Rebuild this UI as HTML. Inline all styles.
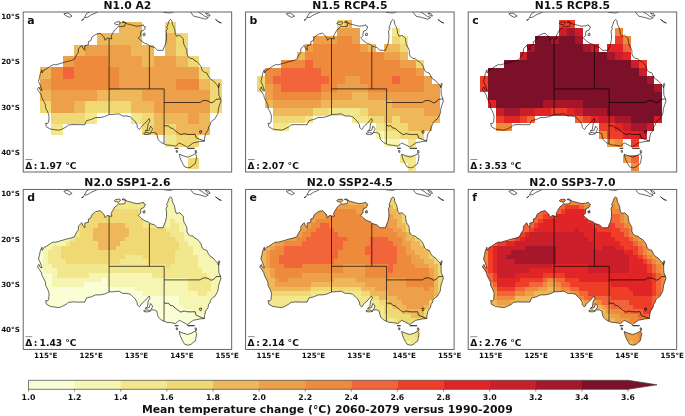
<!DOCTYPE html>
<html><head><meta charset="utf-8"><title>Mean temperature change</title>
<style>html,body{margin:0;padding:0;background:#fff}svg{display:block}text{font-family:"DejaVu Sans","Liberation Sans",sans-serif;font-weight:bold;fill:#111}</style></head><body>
<svg width="685" height="416" viewBox="0 0 685 416">
<rect width="685" height="416" fill="#fff"/>
<defs>
<path id="land" d="M147.5 7.4L148.7 8.8L149.2 12.4L150.5 14.7L151.5 17.4L152.1 21.5L153.3 24.2L156.4 23.3L160.1 26.7L160.1 29.2L160.8 32.8L162.4 35.5L163.7 38.3L163.7 41.9L164.8 44.6L166.9 46.2L170.1 46.9L171.4 48.7L173.7 49.6L176.0 51.9L177.8 54.6L179.1 58.7L181.0 60.1L183.7 61.0L185.1 64.2L187.3 67.1L190.0 68.7L192.3 71.4L194.6 73.7L195.5 76.4L195.5 80.0L195.7 83.2L197.1 86.4L197.8 88.9L196.6 92.3L195.3 96.4L195.0 99.1L194.6 101.8L192.8 105.0L191.4 107.3L189.6 108.2L187.3 110.9L187.1 112.7L185.5 115.0L184.8 118.2L182.3 121.8L181.4 126.3L181.2 129.1L176.9 129.5L170.1 130.9L166.9 133.2L164.2 135.2L161.4 133.6L158.3 132.0L156.0 130.9L154.2 132.7L152.2 134.1L146.9 133.2L143.3 132.9L140.1 131.6L137.8 130.4L135.1 127.7L134.2 125.0L133.7 121.8L131.0 120.4L127.4 120.7L129.2 117.7L129.2 116.4L127.4 114.1L126.0 118.2L121.9 119.1L124.2 117.3L124.7 113.6L125.1 111.4L126.7 109.1L126.0 106.6L124.2 108.6L121.3 111.8L119.0 113.6L117.6 115.5L117.0 116.8L116.0 117.5L114.2 115.5L113.8 112.7L112.0 109.6L109.7 107.3L107.0 104.8L102.9 103.9L99.7 104.1L95.6 101.8L90.6 102.3L86.1 102.5L81.5 104.6L77.0 105.5L72.5 105.5L67.9 107.5L63.4 108.6L61.6 112.7L54.3 112.7L49.8 112.5L45.2 113.0L42.9 115.0L38.4 117.3L35.7 118.2L31.6 117.7L27.1 117.0L23.2 114.8L22.5 111.1L24.3 111.6L25.5 110.0L25.7 106.4L25.9 104.3L25.2 101.8L23.9 98.7L22.5 96.4L22.3 92.8L20.7 89.6L18.7 85.9L18.4 83.7L16.2 80.0L14.1 77.5L15.7 75.0L16.8 77.8L18.9 78.5L16.6 72.3L15.3 69.6L16.2 66.0L17.1 61.4L18.7 57.8L18.9 61.0L20.9 58.0L23.0 57.1L27.1 54.2L30.2 52.6L32.5 52.8L38.9 51.0L43.4 49.6L47.5 48.7L51.1 47.4L53.4 42.8L55.2 40.5L55.2 36.9L58.5 33.3L59.7 36.0L61.6 38.3L61.6 33.7L65.2 32.8L65.2 29.6L67.5 28.7L68.8 25.1L72.5 22.4L76.8 21.2L80.6 24.7L82.0 28.3L83.8 26.0L86.1 26.5L88.8 26.9L87.9 24.2L89.3 21.5L91.5 17.8L94.5 15.3L95.2 14.2L97.4 14.7L101.5 14.2L102.4 11.0L98.8 10.1L100.6 9.4L104.2 11.9L106.5 12.4L109.7 13.3L113.3 14.2L117.4 13.8L120.1 12.8L120.6 14.2L122.3 14.9L120.6 18.3L117.9 19.2L117.4 21.5L117.4 23.7L115.1 26.0L117.4 28.3L121.0 31.0L124.7 32.4L126.9 34.2L131.5 35.5L134.2 38.3L139.9 38.3L140.6 36.0L142.4 31.9L143.3 26.9L143.3 22.4L142.8 19.2L144.4 16.3L143.3 15.6L144.6 12.8L145.8 8.8Z M156.0 142.1L160.1 143.8L164.5 145.1L168.7 143.6L172.2 141.7L173.5 144.1L172.6 149.4L171.9 151.8L169.9 153.1L167.8 155.0L165.1 155.9L161.4 154.8L159.6 151.8L158.3 149.4L156.9 145.9Z M120.6 121.1L123.8 120.4L127.4 121.6L124.7 122.5L121.0 122.3Z M91.1 11.5L92.4 10.1L96.5 9.7L97.4 11.0L95.2 12.8L92.9 12.4Z M119.7 21.9L121.5 21.0L121.9 23.3L120.1 23.7Z M195.9 71.2L196.6 72.3L195.5 75.7L195.0 73.7Z M171.9 138.4L173.2 138.8L173.5 140.9L172.3 141.1Z M152.8 138.4L154.2 138.6L154.4 140.2L153.3 140.4Z"/>
<path id="coast" fill="none" stroke="#000" stroke-width="0.6" stroke-linejoin="round" d="M151.5 136.3L155.1 136.3Z M164.2 136.3L171.4 136.3Z M182.3 1.0L185.5 1.7L186.9 4.0L184.6 3.8Z M147.5 7.4L148.7 8.8L149.2 12.4L150.5 14.7L151.5 17.4L152.1 21.5L153.3 24.2L156.4 23.3L160.1 26.7L160.1 29.2L160.8 32.8L162.4 35.5L163.7 38.3L163.7 41.9L164.8 44.6L166.9 46.2L170.1 46.9L171.4 48.7L173.7 49.6L176.0 51.9L177.8 54.6L179.1 58.7L181.0 60.1L183.7 61.0L185.1 64.2L187.3 67.1L190.0 68.7L192.3 71.4L194.6 73.7L195.5 76.4L195.5 80.0L195.7 83.2L197.1 86.4L197.8 88.9L196.6 92.3L195.3 96.4L195.0 99.1L194.6 101.8L192.8 105.0L191.4 107.3L189.6 108.2L187.3 110.9L187.1 112.7L185.5 115.0L184.8 118.2L182.3 121.8L181.4 126.3L181.2 129.1L176.9 129.5L170.1 130.9L166.9 133.2L164.2 135.2L161.4 133.6L158.3 132.0L156.0 130.9L154.2 132.7L152.2 134.1L146.9 133.2L143.3 132.9L140.1 131.6L137.8 130.4L135.1 127.7L134.2 125.0L133.7 121.8L131.0 120.4L127.4 120.7L129.2 117.7L129.2 116.4L127.4 114.1L126.0 118.2L121.9 119.1L124.2 117.3L124.7 113.6L125.1 111.4L126.7 109.1L126.0 106.6L124.2 108.6L121.3 111.8L119.0 113.6L117.6 115.5L117.0 116.8L116.0 117.5L114.2 115.5L113.8 112.7L112.0 109.6L109.7 107.3L107.0 104.8L102.9 103.9L99.7 104.1L95.6 101.8L90.6 102.3L86.1 102.5L81.5 104.6L77.0 105.5L72.5 105.5L67.9 107.5L63.4 108.6L61.6 112.7L54.3 112.7L49.8 112.5L45.2 113.0L42.9 115.0L38.4 117.3L35.7 118.2L31.6 117.7L27.1 117.0L23.2 114.8L22.5 111.1L24.3 111.6L25.5 110.0L25.7 106.4L25.9 104.3L25.2 101.8L23.9 98.7L22.5 96.4L22.3 92.8L20.7 89.6L18.7 85.9L18.4 83.7L16.2 80.0L14.1 77.5L15.7 75.0L16.8 77.8L18.9 78.5L16.6 72.3L15.3 69.6L16.2 66.0L17.1 61.4L18.7 57.8L18.9 61.0L20.9 58.0L23.0 57.1L27.1 54.2L30.2 52.6L32.5 52.8L38.9 51.0L43.4 49.6L47.5 48.7L51.1 47.4L53.4 42.8L55.2 40.5L55.2 36.9L58.5 33.3L59.7 36.0L61.6 38.3L61.6 33.7L65.2 32.8L65.2 29.6L67.5 28.7L68.8 25.1L72.5 22.4L76.8 21.2L80.6 24.7L82.0 28.3L83.8 26.0L86.1 26.5L88.8 26.9L87.9 24.2L89.3 21.5L91.5 17.8L94.5 15.3L95.2 14.2L97.4 14.7L101.5 14.2L102.4 11.0L98.8 10.1L100.6 9.4L104.2 11.9L106.5 12.4L109.7 13.3L113.3 14.2L117.4 13.8L120.1 12.8L120.6 14.2L122.3 14.9L120.6 18.3L117.9 19.2L117.4 21.5L117.4 23.7L115.1 26.0L117.4 28.3L121.0 31.0L124.7 32.4L126.9 34.2L131.5 35.5L134.2 38.3L139.9 38.3L140.6 36.0L142.4 31.9L143.3 26.9L143.3 22.4L142.8 19.2L144.4 16.3L143.3 15.6L144.6 12.8L145.8 8.8Z M156.0 142.1L160.1 143.8L164.5 145.1L168.7 143.6L172.2 141.7L173.5 144.1L172.6 149.4L171.9 151.8L169.9 153.1L167.8 155.0L165.1 155.9L161.4 154.8L159.6 151.8L158.3 149.4L156.9 145.9Z M120.6 121.1L123.8 120.4L127.4 121.6L124.7 122.5L121.0 122.3Z M91.1 11.5L92.4 10.1L96.5 9.7L97.4 11.0L95.2 12.8L92.9 12.4Z M119.7 21.9L121.5 21.0L121.9 23.3L120.1 23.7Z M195.9 71.2L196.6 72.3L195.5 75.7L195.0 73.7Z M171.9 138.4L173.2 138.8L173.5 140.9L172.3 141.1Z M152.8 138.4L154.2 138.6L154.4 140.2L153.3 140.4Z M40.7 1.7L44.8 1.0L48.9 4.0L46.1 5.4L42.0 3.3Z M61.1 5.8L63.4 1.5L67.9 -0.8L77.0 -3.0L78.4 -2.6L72.5 1.0L67.9 2.9L64.7 5.1Z M58.4 8.3L60.7 6.7L59.7 8.1Z M136.0 -4.9L140.6 0.4L147.4 1.0L151.0 -0.3L151.5 -4.9Z M163.3 -4.9L167.3 0.1L170.5 4.2L176.9 5.6L182.3 7.2L185.1 5.6L181.4 4.2L179.1 2.4L174.6 -0.3L172.3 -4.9Z M192.3 7.4L195.5 9.7L198.2 11.0L195.9 10.4Z"/>
<path id="borders" fill="none" stroke="#000" stroke-width="0.68" d="M176.2 119.1L178.2 118.6L178.5 120.4L177.1 121.6L176.2 119.1 M85.9 26.5L85.9 102.5 M85.9 76.9L141.0 76.9 M126.2 34.2L126.2 76.9 M141.0 76.9L140.8 131.6 M141.0 90.5L176.9 90.5L179.6 88.7L182.8 88.4L186.0 89.6L187.8 90.9L190.5 90.0L192.8 87.3L195.9 87.1L197.5 86.7 M140.8 113.2L142.8 114.1L145.1 113.6L146.9 115.9L149.6 116.4L151.9 118.6L154.2 120.4L157.6 122.7L161.0 121.6L163.3 122.3L167.8 122.5L171.9 122.3L173.0 125.9L181.2 129.1"/>
<clipPath id="frame"><rect x="0" y="0" width="208.5" height="160.0"/></clipPath>
<clipPath id="landclip"><use href="#land"/></clipPath>
</defs>
<g id="panel-a" transform="translate(23.2 12.0)">
<g clip-path="url(#frame)">
<g shape-rendering="crispEdges">

<rect x="96.29" y="9.90" width="22.70" height="11.35" fill="#edb75a"/><rect x="141.69" y="9.90" width="11.35" height="11.35" fill="#f0d874"/>
<rect x="73.59" y="21.25" width="45.40" height="11.35" fill="#edb75a"/><rect x="141.69" y="21.25" width="11.35" height="11.35" fill="#edb75a"/><rect x="153.04" y="21.25" width="11.35" height="11.35" fill="#f0d874"/>
<rect x="50.89" y="32.60" width="11.35" height="11.35" fill="#edb75a"/><rect x="62.24" y="32.60" width="45.40" height="11.35" fill="#eda049"/><rect x="107.64" y="32.60" width="22.70" height="11.35" fill="#edb75a"/><rect x="141.69" y="32.60" width="11.35" height="11.35" fill="#edb75a"/><rect x="153.04" y="32.60" width="11.35" height="11.35" fill="#f0d874"/>
<rect x="39.54" y="43.95" width="11.35" height="11.35" fill="#eda049"/><rect x="50.89" y="43.95" width="34.05" height="11.35" fill="#ee8a3c"/><rect x="84.94" y="43.95" width="34.05" height="11.35" fill="#eda049"/><rect x="118.99" y="43.95" width="11.35" height="11.35" fill="#edb75a"/><rect x="130.34" y="43.95" width="22.70" height="11.35" fill="#eda049"/><rect x="153.04" y="43.95" width="11.35" height="11.35" fill="#edb75a"/><rect x="164.39" y="43.95" width="11.35" height="11.35" fill="#f0d874"/>
<rect x="16.84" y="55.30" width="11.35" height="11.35" fill="#edb75a"/><rect x="28.19" y="55.30" width="11.35" height="11.35" fill="#ee8a3c"/><rect x="39.54" y="55.30" width="11.35" height="11.35" fill="#f2643a"/><rect x="50.89" y="55.30" width="45.40" height="11.35" fill="#ee8a3c"/><rect x="96.29" y="55.30" width="79.45" height="11.35" fill="#eda049"/><rect x="175.74" y="55.30" width="11.35" height="11.35" fill="#f0d874"/>
<rect x="16.84" y="66.65" width="11.35" height="11.35" fill="#eda049"/><rect x="28.19" y="66.65" width="68.10" height="11.35" fill="#ee8a3c"/><rect x="96.29" y="66.65" width="56.75" height="11.35" fill="#eda049"/><rect x="153.04" y="66.65" width="22.70" height="11.35" fill="#ee8a3c"/><rect x="175.74" y="66.65" width="11.35" height="11.35" fill="#edb75a"/><rect x="187.09" y="66.65" width="11.35" height="11.35" fill="#f0d874"/>
<rect x="16.84" y="78.00" width="11.35" height="11.35" fill="#edb75a"/><rect x="28.19" y="78.00" width="45.40" height="11.35" fill="#eda049"/><rect x="73.59" y="78.00" width="45.40" height="11.35" fill="#edb75a"/><rect x="118.99" y="78.00" width="68.10" height="11.35" fill="#eda049"/><rect x="187.09" y="78.00" width="11.35" height="11.35" fill="#f0d874"/>
<rect x="16.84" y="89.35" width="11.35" height="11.35" fill="#f0d874"/><rect x="28.19" y="89.35" width="22.70" height="11.35" fill="#eda049"/><rect x="50.89" y="89.35" width="11.35" height="11.35" fill="#edb75a"/><rect x="62.24" y="89.35" width="45.40" height="11.35" fill="#f0d874"/><rect x="107.64" y="89.35" width="22.70" height="11.35" fill="#edb75a"/><rect x="130.34" y="89.35" width="56.75" height="11.35" fill="#eda049"/><rect x="187.09" y="89.35" width="11.35" height="11.35" fill="#f0d874"/>
<rect x="28.19" y="100.70" width="34.05" height="11.35" fill="#f0d874"/><rect x="62.24" y="100.70" width="11.35" height="11.35" fill="#f3e78e"/><rect x="107.64" y="100.70" width="11.35" height="11.35" fill="#f3e78e"/><rect x="118.99" y="100.70" width="11.35" height="11.35" fill="#f0d874"/><rect x="130.34" y="100.70" width="34.05" height="11.35" fill="#edb75a"/><rect x="164.39" y="100.70" width="11.35" height="11.35" fill="#eda049"/><rect x="175.74" y="100.70" width="11.35" height="11.35" fill="#edb75a"/>
<rect x="28.19" y="112.05" width="11.35" height="11.35" fill="#f3e78e"/><rect x="118.99" y="112.05" width="11.35" height="11.35" fill="#f0d874"/><rect x="130.34" y="112.05" width="11.35" height="11.35" fill="#edb75a"/><rect x="141.69" y="112.05" width="11.35" height="11.35" fill="#f0d874"/><rect x="153.04" y="112.05" width="34.05" height="11.35" fill="#edb75a"/>
<rect x="141.69" y="123.40" width="11.35" height="11.35" fill="#f3e78e"/><rect x="153.04" y="123.40" width="22.70" height="11.35" fill="#f0d874"/>

<rect x="164.39" y="146.10" width="11.35" height="11.35" fill="#f0d874"/>
</g>
<use href="#coast"/><use href="#borders"/>
</g>
<rect x="0" y="0" width="208.5" height="160.0" fill="none" stroke="#555" stroke-width="0.9"/>
<text x="104.2" y="-3.2" font-size="10.8" text-anchor="middle">N1.0 A2</text>
<text x="4.0" y="11.9" font-size="10.9">a</text>
<text x="2.0" y="156.9" font-size="9.1">Δ</text><rect x="2.2" y="147.1" width="6.9" height="0.6" fill="#444"/><text x="10.6" y="156.9" font-size="9.1">:</text><text x="16.3" y="156.9" font-size="9.2">1.97</text><text x="42.0" y="156.9" font-size="9.2">°C</text>
<text x="-3.4" y="6.8" font-size="7.15" text-anchor="end">10°S</text><text x="-3.4" y="52.2" font-size="7.15" text-anchor="end">20°S</text><text x="-3.4" y="97.6" font-size="7.15" text-anchor="end">30°S</text><text x="-3.4" y="143.0" font-size="7.15" text-anchor="end">40°S</text>
</g>
<g id="panel-b" transform="translate(245.6 12.0)">
<g clip-path="url(#frame)">
<g shape-rendering="crispEdges">

<rect x="91.00" y="8.33" width="7.94" height="7.93" fill="#f0d874"/><rect x="98.94" y="8.33" width="7.94" height="7.93" fill="#edb75a"/>
<rect x="91.00" y="16.26" width="23.82" height="7.93" fill="#eda049"/><rect x="146.59" y="16.26" width="7.94" height="7.93" fill="#f3e78e"/>
<rect x="67.18" y="24.19" width="23.82" height="7.93" fill="#eda049"/><rect x="91.00" y="24.19" width="15.88" height="7.93" fill="#ee8a3c"/><rect x="106.89" y="24.19" width="7.94" height="7.93" fill="#eda049"/><rect x="146.59" y="24.19" width="7.94" height="7.93" fill="#f0d874"/><rect x="154.53" y="24.19" width="7.94" height="7.93" fill="#f3e78e"/>
<rect x="59.24" y="32.13" width="7.94" height="7.93" fill="#eda049"/><rect x="67.18" y="32.13" width="47.64" height="7.93" fill="#ee8a3c"/><rect x="114.83" y="32.13" width="7.94" height="7.93" fill="#eda049"/><rect x="122.77" y="32.13" width="7.94" height="7.93" fill="#edb75a"/><rect x="138.65" y="32.13" width="15.88" height="7.93" fill="#edb75a"/><rect x="154.53" y="32.13" width="7.94" height="7.93" fill="#f0d874"/>
<rect x="51.30" y="40.06" width="7.94" height="7.93" fill="#edb75a"/><rect x="59.24" y="40.06" width="79.40" height="7.93" fill="#ee8a3c"/><rect x="138.65" y="40.06" width="15.88" height="7.93" fill="#eda049"/><rect x="154.53" y="40.06" width="7.94" height="7.93" fill="#edb75a"/>
<rect x="35.42" y="47.99" width="23.82" height="7.93" fill="#ee8a3c"/><rect x="59.24" y="47.99" width="7.94" height="7.93" fill="#f2643a"/><rect x="67.18" y="47.99" width="87.35" height="7.93" fill="#ee8a3c"/><rect x="154.53" y="47.99" width="15.88" height="7.93" fill="#eda049"/><rect x="170.41" y="47.99" width="7.94" height="7.93" fill="#f0d874"/>
<rect x="19.54" y="55.92" width="15.88" height="7.93" fill="#ee8a3c"/><rect x="35.42" y="55.92" width="39.70" height="7.93" fill="#f2643a"/><rect x="75.12" y="55.92" width="95.29" height="7.93" fill="#ee8a3c"/><rect x="170.41" y="55.92" width="7.94" height="7.93" fill="#eda049"/>
<rect x="11.60" y="63.85" width="7.94" height="7.93" fill="#f0d874"/><rect x="19.54" y="63.85" width="7.94" height="7.93" fill="#ee8a3c"/><rect x="27.48" y="63.85" width="55.58" height="7.93" fill="#f2643a"/><rect x="83.06" y="63.85" width="15.88" height="7.93" fill="#ee8a3c"/><rect x="98.94" y="63.85" width="15.88" height="7.93" fill="#eda049"/><rect x="114.83" y="63.85" width="31.76" height="7.93" fill="#ee8a3c"/><rect x="146.59" y="63.85" width="7.94" height="7.93" fill="#f2643a"/><rect x="154.53" y="63.85" width="23.82" height="7.93" fill="#ee8a3c"/><rect x="178.35" y="63.85" width="7.94" height="7.93" fill="#eda049"/>
<rect x="11.60" y="71.78" width="7.94" height="7.93" fill="#f0d874"/><rect x="19.54" y="71.78" width="7.94" height="7.93" fill="#eda049"/><rect x="27.48" y="71.78" width="7.94" height="7.93" fill="#ee8a3c"/><rect x="35.42" y="71.78" width="39.70" height="7.93" fill="#f2643a"/><rect x="75.12" y="71.78" width="15.88" height="7.93" fill="#ee8a3c"/><rect x="91.00" y="71.78" width="31.76" height="7.93" fill="#eda049"/><rect x="122.77" y="71.78" width="55.58" height="7.93" fill="#ee8a3c"/><rect x="178.35" y="71.78" width="15.88" height="7.93" fill="#eda049"/>
<rect x="19.54" y="79.71" width="7.94" height="7.93" fill="#eda049"/><rect x="27.48" y="79.71" width="47.64" height="7.93" fill="#ee8a3c"/><rect x="75.12" y="79.71" width="31.76" height="7.93" fill="#eda049"/><rect x="106.89" y="79.71" width="15.88" height="7.93" fill="#edb75a"/><rect x="122.77" y="79.71" width="71.46" height="7.93" fill="#eda049"/>
<rect x="19.54" y="87.64" width="7.94" height="7.93" fill="#edb75a"/><rect x="27.48" y="87.64" width="47.64" height="7.93" fill="#eda049"/><rect x="75.12" y="87.64" width="71.46" height="7.93" fill="#edb75a"/><rect x="146.59" y="87.64" width="47.64" height="7.93" fill="#eda049"/>
<rect x="27.48" y="95.58" width="39.70" height="7.93" fill="#edb75a"/><rect x="67.18" y="95.58" width="15.88" height="7.93" fill="#f0d874"/><rect x="83.06" y="95.58" width="31.76" height="7.93" fill="#f3e78e"/><rect x="114.83" y="95.58" width="7.94" height="7.93" fill="#f0d874"/><rect x="122.77" y="95.58" width="55.58" height="7.93" fill="#edb75a"/><rect x="178.35" y="95.58" width="15.88" height="7.93" fill="#eda049"/>
<rect x="27.48" y="103.51" width="31.76" height="7.93" fill="#f0d874"/><rect x="59.24" y="103.51" width="7.94" height="7.93" fill="#f3e78e"/><rect x="106.89" y="103.51" width="15.88" height="7.93" fill="#f3e78e"/><rect x="122.77" y="103.51" width="15.88" height="7.93" fill="#f0d874"/><rect x="138.65" y="103.51" width="7.94" height="7.93" fill="#edb75a"/><rect x="146.59" y="103.51" width="7.94" height="7.93" fill="#f0d874"/><rect x="154.53" y="103.51" width="39.70" height="7.93" fill="#edb75a"/>
<rect x="27.48" y="111.44" width="15.88" height="7.93" fill="#f3e78e"/><rect x="130.71" y="111.44" width="7.94" height="7.93" fill="#f3e78e"/><rect x="138.65" y="111.44" width="23.82" height="7.93" fill="#f0d874"/><rect x="162.47" y="111.44" width="23.82" height="7.93" fill="#edb75a"/>
<rect x="130.71" y="119.37" width="7.94" height="7.93" fill="#f6f6b2"/><rect x="138.65" y="119.37" width="15.88" height="7.93" fill="#f3e78e"/><rect x="154.53" y="119.37" width="23.82" height="7.93" fill="#f0d874"/>
<rect x="138.65" y="127.30" width="15.88" height="7.93" fill="#f6f6b2"/><rect x="162.47" y="127.30" width="7.94" height="7.93" fill="#f3e78e"/>

<rect x="154.53" y="143.16" width="15.88" height="7.93" fill="#f3e78e"/>
<rect x="162.47" y="151.10" width="7.94" height="7.93" fill="#f3e78e"/>
</g>
<use href="#coast"/><use href="#borders"/>
</g>
<rect x="0" y="0" width="208.5" height="160.0" fill="none" stroke="#555" stroke-width="0.9"/>
<text x="104.2" y="-3.2" font-size="10.8" text-anchor="middle">N1.5 RCP4.5</text>
<text x="4.0" y="11.9" font-size="10.9">b</text>
<text x="2.0" y="156.9" font-size="9.1">Δ</text><rect x="2.2" y="147.1" width="6.9" height="0.6" fill="#444"/><text x="10.6" y="156.9" font-size="9.1">:</text><text x="16.3" y="156.9" font-size="9.2">2.07</text><text x="42.0" y="156.9" font-size="9.2">°C</text>
</g>
<g id="panel-c" transform="translate(468.2 12.0)">
<g clip-path="url(#frame)">
<g shape-rendering="crispEdges">

<rect x="91.00" y="8.33" width="15.88" height="7.93" fill="#ee3e28"/>
<rect x="91.00" y="16.26" width="7.94" height="7.93" fill="#ca1f2a"/><rect x="98.94" y="16.26" width="7.94" height="7.93" fill="#a7172b"/><rect x="106.89" y="16.26" width="7.94" height="7.93" fill="#ca1f2a"/><rect x="146.59" y="16.26" width="7.94" height="7.93" fill="#ee8a3c"/>
<rect x="67.18" y="24.19" width="15.88" height="7.93" fill="#7c1028"/><rect x="83.06" y="24.19" width="7.94" height="7.93" fill="#a7172b"/><rect x="91.00" y="24.19" width="15.88" height="7.93" fill="#7c1028"/><rect x="106.89" y="24.19" width="7.94" height="7.93" fill="#a7172b"/><rect x="146.59" y="24.19" width="7.94" height="7.93" fill="#ee3e28"/><rect x="154.53" y="24.19" width="7.94" height="7.93" fill="#ee8a3c"/>
<rect x="59.24" y="32.13" width="7.94" height="7.93" fill="#a7172b"/><rect x="67.18" y="32.13" width="47.64" height="7.93" fill="#7c1028"/><rect x="114.83" y="32.13" width="7.94" height="7.93" fill="#a7172b"/><rect x="122.77" y="32.13" width="7.94" height="7.93" fill="#ca1f2a"/><rect x="138.65" y="32.13" width="15.88" height="7.93" fill="#e12426"/><rect x="154.53" y="32.13" width="7.94" height="7.93" fill="#f2643a"/>
<rect x="51.30" y="40.06" width="7.94" height="7.93" fill="#ca1f2a"/><rect x="59.24" y="40.06" width="79.40" height="7.93" fill="#7c1028"/><rect x="138.65" y="40.06" width="7.94" height="7.93" fill="#a7172b"/><rect x="146.59" y="40.06" width="7.94" height="7.93" fill="#ca1f2a"/><rect x="154.53" y="40.06" width="7.94" height="7.93" fill="#e12426"/>
<rect x="35.42" y="47.99" width="127.05" height="7.93" fill="#7c1028"/><rect x="162.47" y="47.99" width="7.94" height="7.93" fill="#ca1f2a"/><rect x="170.41" y="47.99" width="7.94" height="7.93" fill="#ee3e28"/>
<rect x="19.54" y="55.92" width="150.87" height="7.93" fill="#7c1028"/><rect x="170.41" y="55.92" width="7.94" height="7.93" fill="#ca1f2a"/>
<rect x="11.60" y="63.85" width="7.94" height="7.93" fill="#ee3e28"/><rect x="19.54" y="63.85" width="158.81" height="7.93" fill="#7c1028"/><rect x="178.35" y="63.85" width="7.94" height="7.93" fill="#a7172b"/>
<rect x="11.60" y="71.78" width="7.94" height="7.93" fill="#ee3e28"/><rect x="19.54" y="71.78" width="166.75" height="7.93" fill="#7c1028"/><rect x="186.29" y="71.78" width="7.94" height="7.93" fill="#a7172b"/>
<rect x="19.54" y="79.71" width="174.69" height="7.93" fill="#7c1028"/>
<rect x="19.54" y="87.64" width="7.94" height="7.93" fill="#e12426"/><rect x="27.48" y="87.64" width="47.64" height="7.93" fill="#7c1028"/><rect x="75.12" y="87.64" width="39.70" height="7.93" fill="#a7172b"/><rect x="114.83" y="87.64" width="79.40" height="7.93" fill="#7c1028"/>
<rect x="27.48" y="95.58" width="7.94" height="7.93" fill="#ca1f2a"/><rect x="35.42" y="95.58" width="15.88" height="7.93" fill="#a7172b"/><rect x="51.30" y="95.58" width="15.88" height="7.93" fill="#ca1f2a"/><rect x="67.18" y="95.58" width="15.88" height="7.93" fill="#e12426"/><rect x="83.06" y="95.58" width="15.88" height="7.93" fill="#ee3e28"/><rect x="98.94" y="95.58" width="7.94" height="7.93" fill="#e12426"/><rect x="106.89" y="95.58" width="7.94" height="7.93" fill="#ca1f2a"/><rect x="114.83" y="95.58" width="23.82" height="7.93" fill="#a7172b"/><rect x="138.65" y="95.58" width="55.58" height="7.93" fill="#7c1028"/>
<rect x="27.48" y="103.51" width="7.94" height="7.93" fill="#ee3e28"/><rect x="35.42" y="103.51" width="15.88" height="7.93" fill="#e12426"/><rect x="51.30" y="103.51" width="7.94" height="7.93" fill="#ee3e28"/><rect x="59.24" y="103.51" width="7.94" height="7.93" fill="#f2643a"/><rect x="106.89" y="103.51" width="7.94" height="7.93" fill="#f2643a"/><rect x="114.83" y="103.51" width="7.94" height="7.93" fill="#ee3e28"/><rect x="122.77" y="103.51" width="7.94" height="7.93" fill="#e12426"/><rect x="130.71" y="103.51" width="15.88" height="7.93" fill="#ca1f2a"/><rect x="146.59" y="103.51" width="15.88" height="7.93" fill="#a7172b"/><rect x="162.47" y="103.51" width="23.82" height="7.93" fill="#7c1028"/><rect x="186.29" y="103.51" width="7.94" height="7.93" fill="#ca1f2a"/>
<rect x="27.48" y="111.44" width="15.88" height="7.93" fill="#ee8a3c"/><rect x="130.71" y="111.44" width="15.88" height="7.93" fill="#ee3e28"/><rect x="146.59" y="111.44" width="7.94" height="7.93" fill="#e12426"/><rect x="154.53" y="111.44" width="7.94" height="7.93" fill="#ca1f2a"/><rect x="162.47" y="111.44" width="15.88" height="7.93" fill="#a7172b"/><rect x="178.35" y="111.44" width="7.94" height="7.93" fill="#ca1f2a"/>
<rect x="130.71" y="119.37" width="7.94" height="7.93" fill="#ee8a3c"/><rect x="138.65" y="119.37" width="15.88" height="7.93" fill="#ee3e28"/><rect x="154.53" y="119.37" width="15.88" height="7.93" fill="#e12426"/><rect x="170.41" y="119.37" width="7.94" height="7.93" fill="#ca1f2a"/>
<rect x="138.65" y="127.30" width="7.94" height="7.93" fill="#eda049"/><rect x="146.59" y="127.30" width="7.94" height="7.93" fill="#ee8a3c"/><rect x="162.47" y="127.30" width="7.94" height="7.93" fill="#ee3e28"/>

<rect x="154.53" y="143.16" width="7.94" height="7.93" fill="#eda049"/><rect x="162.47" y="143.16" width="7.94" height="7.93" fill="#f2643a"/>
<rect x="162.47" y="151.10" width="7.94" height="7.93" fill="#ee8a3c"/>
</g>
<use href="#coast"/><use href="#borders"/>
</g>
<rect x="0" y="0" width="208.5" height="160.0" fill="none" stroke="#555" stroke-width="0.9"/>
<text x="104.2" y="-3.2" font-size="10.8" text-anchor="middle">N1.5 RCP8.5</text>
<text x="4.0" y="11.9" font-size="10.9">c</text>
<text x="2.0" y="156.9" font-size="9.1">Δ</text><rect x="2.2" y="147.1" width="6.9" height="0.6" fill="#444"/><text x="10.6" y="156.9" font-size="9.1">:</text><text x="16.3" y="156.9" font-size="9.2">3.53</text><text x="42.0" y="156.9" font-size="9.2">°C</text>
</g>
<g id="panel-d" transform="translate(23.2 189.4)">
<g clip-path="url(#frame)">
<g shape-rendering="crispEdges">
<g clip-path="url(#landclip)">
<rect x="1.82" y="-2.68" width="68.10" height="4.54" fill="#f6f6b2"/><rect x="69.92" y="-2.68" width="72.64" height="4.54" fill="#f3e78e"/><rect x="142.56" y="-2.68" width="68.10" height="4.54" fill="#f6f6b2"/>
<rect x="1.82" y="1.86" width="68.10" height="4.54" fill="#f6f6b2"/><rect x="69.92" y="1.86" width="72.64" height="4.54" fill="#f3e78e"/><rect x="142.56" y="1.86" width="68.10" height="4.54" fill="#f6f6b2"/>
<rect x="1.82" y="6.40" width="68.10" height="4.54" fill="#f6f6b2"/><rect x="69.92" y="6.40" width="72.64" height="4.54" fill="#f3e78e"/><rect x="142.56" y="6.40" width="68.10" height="4.54" fill="#f6f6b2"/>
<rect x="1.82" y="10.94" width="68.10" height="4.54" fill="#f6f6b2"/><rect x="69.92" y="10.94" width="72.64" height="4.54" fill="#f3e78e"/><rect x="142.56" y="10.94" width="68.10" height="4.54" fill="#f6f6b2"/>
<rect x="1.82" y="15.48" width="68.10" height="4.54" fill="#f6f6b2"/><rect x="69.92" y="15.48" width="4.54" height="4.54" fill="#f3e78e"/><rect x="74.46" y="15.48" width="13.62" height="4.54" fill="#f0d874"/><rect x="88.08" y="15.48" width="54.48" height="4.54" fill="#f3e78e"/><rect x="142.56" y="15.48" width="68.10" height="4.54" fill="#f6f6b2"/>
<rect x="1.82" y="20.02" width="68.10" height="4.54" fill="#f6f6b2"/><rect x="69.92" y="20.02" width="4.54" height="4.54" fill="#f3e78e"/><rect x="74.46" y="20.02" width="40.86" height="4.54" fill="#f0d874"/><rect x="115.32" y="20.02" width="27.24" height="4.54" fill="#f3e78e"/><rect x="142.56" y="20.02" width="68.10" height="4.54" fill="#f6f6b2"/>
<rect x="1.82" y="24.56" width="59.02" height="4.54" fill="#f6f6b2"/><rect x="60.84" y="24.56" width="4.54" height="4.54" fill="#f3e78e"/><rect x="65.38" y="24.56" width="49.94" height="4.54" fill="#f0d874"/><rect x="115.32" y="24.56" width="27.24" height="4.54" fill="#f3e78e"/><rect x="142.56" y="24.56" width="68.10" height="4.54" fill="#f6f6b2"/>
<rect x="1.82" y="29.10" width="54.48" height="4.54" fill="#f6f6b2"/><rect x="56.30" y="29.10" width="4.54" height="4.54" fill="#f3e78e"/><rect x="60.84" y="29.10" width="59.02" height="4.54" fill="#f0d874"/><rect x="119.86" y="29.10" width="22.70" height="4.54" fill="#f3e78e"/><rect x="142.56" y="29.10" width="4.54" height="4.54" fill="#f6f6b2"/><rect x="147.10" y="29.10" width="4.54" height="4.54" fill="#f3e78e"/><rect x="151.64" y="29.10" width="59.02" height="4.54" fill="#f6f6b2"/>
<rect x="1.82" y="33.64" width="49.94" height="4.54" fill="#f6f6b2"/><rect x="51.76" y="33.64" width="4.54" height="4.54" fill="#f3e78e"/><rect x="56.30" y="33.64" width="18.16" height="4.54" fill="#f0d874"/><rect x="74.46" y="33.64" width="27.24" height="4.54" fill="#edb75a"/><rect x="101.70" y="33.64" width="18.16" height="4.54" fill="#f0d874"/><rect x="119.86" y="33.64" width="22.70" height="4.54" fill="#f3e78e"/><rect x="142.56" y="33.64" width="4.54" height="4.54" fill="#f6f6b2"/><rect x="147.10" y="33.64" width="9.08" height="4.54" fill="#f3e78e"/><rect x="156.18" y="33.64" width="54.48" height="4.54" fill="#f6f6b2"/>
<rect x="1.82" y="38.18" width="49.94" height="4.54" fill="#f6f6b2"/><rect x="51.76" y="38.18" width="4.54" height="4.54" fill="#f3e78e"/><rect x="56.30" y="38.18" width="13.62" height="4.54" fill="#f0d874"/><rect x="69.92" y="38.18" width="36.32" height="4.54" fill="#edb75a"/><rect x="106.24" y="38.18" width="36.32" height="4.54" fill="#f0d874"/><rect x="142.56" y="38.18" width="13.62" height="4.54" fill="#f3e78e"/><rect x="156.18" y="38.18" width="54.48" height="4.54" fill="#f6f6b2"/>
<rect x="1.82" y="42.72" width="49.94" height="4.54" fill="#f6f6b2"/><rect x="51.76" y="42.72" width="4.54" height="4.54" fill="#f3e78e"/><rect x="56.30" y="42.72" width="13.62" height="4.54" fill="#f0d874"/><rect x="69.92" y="42.72" width="36.32" height="4.54" fill="#edb75a"/><rect x="106.24" y="42.72" width="40.86" height="4.54" fill="#f0d874"/><rect x="147.10" y="42.72" width="13.62" height="4.54" fill="#f3e78e"/><rect x="160.72" y="42.72" width="49.94" height="4.54" fill="#f6f6b2"/>
<rect x="1.82" y="47.26" width="45.40" height="4.54" fill="#f6f6b2"/><rect x="47.22" y="47.26" width="4.54" height="4.54" fill="#f3e78e"/><rect x="51.76" y="47.26" width="18.16" height="4.54" fill="#f0d874"/><rect x="69.92" y="47.26" width="31.78" height="4.54" fill="#edb75a"/><rect x="101.70" y="47.26" width="49.94" height="4.54" fill="#f0d874"/><rect x="151.64" y="47.26" width="9.08" height="4.54" fill="#f3e78e"/><rect x="160.72" y="47.26" width="49.94" height="4.54" fill="#f6f6b2"/>
<rect x="1.82" y="51.80" width="40.86" height="4.54" fill="#f6f6b2"/><rect x="42.68" y="51.80" width="4.54" height="4.54" fill="#f3e78e"/><rect x="47.22" y="51.80" width="27.24" height="4.54" fill="#f0d874"/><rect x="74.46" y="51.80" width="22.70" height="4.54" fill="#edb75a"/><rect x="97.16" y="51.80" width="59.02" height="4.54" fill="#f0d874"/><rect x="156.18" y="51.80" width="9.08" height="4.54" fill="#f3e78e"/><rect x="165.26" y="51.80" width="45.40" height="4.54" fill="#f6f6b2"/>
<rect x="1.82" y="56.34" width="18.16" height="4.54" fill="#f9fed4"/><rect x="19.98" y="56.34" width="9.08" height="4.54" fill="#f6f6b2"/><rect x="29.06" y="56.34" width="9.08" height="4.54" fill="#f3e78e"/><rect x="38.14" y="56.34" width="36.32" height="4.54" fill="#f0d874"/><rect x="74.46" y="56.34" width="18.16" height="4.54" fill="#edb75a"/><rect x="92.62" y="56.34" width="63.56" height="4.54" fill="#f0d874"/><rect x="156.18" y="56.34" width="13.62" height="4.54" fill="#f3e78e"/><rect x="169.80" y="56.34" width="40.86" height="4.54" fill="#f6f6b2"/>
<rect x="1.82" y="60.88" width="18.16" height="4.54" fill="#f9fed4"/><rect x="19.98" y="60.88" width="4.54" height="4.54" fill="#f6f6b2"/><rect x="24.52" y="60.88" width="13.62" height="4.54" fill="#f3e78e"/><rect x="38.14" y="60.88" width="113.50" height="4.54" fill="#f0d874"/><rect x="151.64" y="60.88" width="18.16" height="4.54" fill="#f3e78e"/><rect x="169.80" y="60.88" width="40.86" height="4.54" fill="#f6f6b2"/>
<rect x="1.82" y="65.42" width="18.16" height="4.54" fill="#f9fed4"/><rect x="19.98" y="65.42" width="4.54" height="4.54" fill="#f6f6b2"/><rect x="24.52" y="65.42" width="13.62" height="4.54" fill="#f3e78e"/><rect x="38.14" y="65.42" width="63.56" height="4.54" fill="#f0d874"/><rect x="101.70" y="65.42" width="18.16" height="4.54" fill="#f3e78e"/><rect x="119.86" y="65.42" width="31.78" height="4.54" fill="#f0d874"/><rect x="151.64" y="65.42" width="22.70" height="4.54" fill="#f3e78e"/><rect x="174.34" y="65.42" width="36.32" height="4.54" fill="#f6f6b2"/>
<rect x="1.82" y="69.96" width="18.16" height="4.54" fill="#f9fed4"/><rect x="19.98" y="69.96" width="4.54" height="4.54" fill="#f6f6b2"/><rect x="24.52" y="69.96" width="18.16" height="4.54" fill="#f3e78e"/><rect x="42.68" y="69.96" width="54.48" height="4.54" fill="#f0d874"/><rect x="97.16" y="69.96" width="27.24" height="4.54" fill="#f3e78e"/><rect x="124.40" y="69.96" width="27.24" height="4.54" fill="#f0d874"/><rect x="151.64" y="69.96" width="22.70" height="4.54" fill="#f3e78e"/><rect x="174.34" y="69.96" width="36.32" height="4.54" fill="#f6f6b2"/>
<rect x="1.82" y="74.50" width="18.16" height="4.54" fill="#f9fed4"/><rect x="19.98" y="74.50" width="9.08" height="4.54" fill="#f6f6b2"/><rect x="29.06" y="74.50" width="113.50" height="4.54" fill="#f3e78e"/><rect x="142.56" y="74.50" width="4.54" height="4.54" fill="#f0d874"/><rect x="147.10" y="74.50" width="27.24" height="4.54" fill="#f3e78e"/><rect x="174.34" y="74.50" width="36.32" height="4.54" fill="#f6f6b2"/>
<rect x="1.82" y="79.04" width="18.16" height="4.54" fill="#f9fed4"/><rect x="19.98" y="79.04" width="13.62" height="4.54" fill="#f6f6b2"/><rect x="33.60" y="79.04" width="145.28" height="4.54" fill="#f3e78e"/><rect x="178.88" y="79.04" width="31.78" height="4.54" fill="#f6f6b2"/>
<rect x="1.82" y="83.58" width="27.24" height="4.54" fill="#f9fed4"/><rect x="29.06" y="83.58" width="4.54" height="4.54" fill="#f6f6b2"/><rect x="33.60" y="83.58" width="31.78" height="4.54" fill="#f3e78e"/><rect x="65.38" y="83.58" width="63.56" height="4.54" fill="#f6f6b2"/><rect x="128.94" y="83.58" width="54.48" height="4.54" fill="#f3e78e"/><rect x="183.42" y="83.58" width="27.24" height="4.54" fill="#f6f6b2"/>
<rect x="1.82" y="88.12" width="27.24" height="4.54" fill="#f9fed4"/><rect x="29.06" y="88.12" width="49.94" height="4.54" fill="#f6f6b2"/><rect x="79.00" y="88.12" width="4.54" height="4.54" fill="#f9fed4"/><rect x="83.54" y="88.12" width="81.72" height="4.54" fill="#f6f6b2"/><rect x="165.26" y="88.12" width="22.70" height="4.54" fill="#f3e78e"/><rect x="187.96" y="88.12" width="22.70" height="4.54" fill="#f6f6b2"/>
<rect x="1.82" y="92.66" width="27.24" height="4.54" fill="#f9fed4"/><rect x="29.06" y="92.66" width="31.78" height="4.54" fill="#f6f6b2"/><rect x="60.84" y="92.66" width="22.70" height="4.54" fill="#f9fed4"/><rect x="83.54" y="92.66" width="81.72" height="4.54" fill="#f6f6b2"/><rect x="165.26" y="92.66" width="22.70" height="4.54" fill="#f3e78e"/><rect x="187.96" y="92.66" width="22.70" height="4.54" fill="#f6f6b2"/>
<rect x="1.82" y="97.20" width="108.96" height="4.54" fill="#f9fed4"/><rect x="110.78" y="97.20" width="54.48" height="4.54" fill="#f6f6b2"/><rect x="165.26" y="97.20" width="22.70" height="4.54" fill="#f3e78e"/><rect x="187.96" y="97.20" width="22.70" height="4.54" fill="#f6f6b2"/>
<rect x="1.82" y="101.74" width="118.04" height="4.54" fill="#f9fed4"/><rect x="119.86" y="101.74" width="54.48" height="4.54" fill="#f6f6b2"/><rect x="174.34" y="101.74" width="9.08" height="4.54" fill="#f3e78e"/><rect x="183.42" y="101.74" width="27.24" height="4.54" fill="#f6f6b2"/>
<rect x="1.82" y="106.28" width="154.36" height="4.54" fill="#f9fed4"/><rect x="156.18" y="106.28" width="54.48" height="4.54" fill="#f6f6b2"/>
<rect x="1.82" y="110.82" width="154.36" height="4.54" fill="#f9fed4"/><rect x="156.18" y="110.82" width="54.48" height="4.54" fill="#f6f6b2"/>
<rect x="1.82" y="115.36" width="158.90" height="4.54" fill="#f9fed4"/><rect x="160.72" y="115.36" width="49.94" height="4.54" fill="#f6f6b2"/>
<rect x="1.82" y="119.90" width="167.98" height="4.54" fill="#f9fed4"/><rect x="169.80" y="119.90" width="40.86" height="4.54" fill="#f6f6b2"/>
<rect x="1.82" y="124.44" width="208.84" height="4.54" fill="#f9fed4"/>
<rect x="1.82" y="128.98" width="208.84" height="4.54" fill="#f9fed4"/>
<rect x="1.82" y="133.52" width="208.84" height="4.54" fill="#f9fed4"/>
<rect x="1.82" y="138.06" width="208.84" height="4.54" fill="#f9fed4"/>
<rect x="1.82" y="142.60" width="208.84" height="4.54" fill="#f9fed4"/>
<rect x="1.82" y="147.14" width="208.84" height="4.54" fill="#f9fed4"/>
<rect x="1.82" y="151.68" width="208.84" height="4.54" fill="#f9fed4"/>
<rect x="1.82" y="156.22" width="208.84" height="4.54" fill="#f9fed4"/>
</g>
</g>
<use href="#coast"/><use href="#borders"/>
</g>
<rect x="0" y="0" width="208.5" height="160.0" fill="none" stroke="#555" stroke-width="0.9"/>
<text x="104.2" y="-3.2" font-size="10.8" text-anchor="middle">N2.0 SSP1-2.6</text>
<text x="4.0" y="11.9" font-size="10.9">d</text>
<text x="2.0" y="156.9" font-size="9.1">Δ</text><rect x="2.2" y="147.1" width="6.9" height="0.6" fill="#444"/><text x="10.6" y="156.9" font-size="9.1">:</text><text x="16.3" y="156.9" font-size="9.2">1.43</text><text x="42.0" y="156.9" font-size="9.2">°C</text>
<text x="-3.4" y="6.8" font-size="7.15" text-anchor="end">10°S</text><text x="-3.4" y="52.2" font-size="7.15" text-anchor="end">20°S</text><text x="-3.4" y="97.6" font-size="7.15" text-anchor="end">30°S</text><text x="-3.4" y="143.0" font-size="7.15" text-anchor="end">40°S</text>
<text x="22.5" y="168.6" font-size="7.15" text-anchor="middle">115°E</text><text x="67.9" y="168.6" font-size="7.15" text-anchor="middle">125°E</text><text x="113.3" y="168.6" font-size="7.15" text-anchor="middle">135°E</text><text x="158.7" y="168.6" font-size="7.15" text-anchor="middle">145°E</text><text x="204.1" y="168.6" font-size="7.15" text-anchor="middle">155°E</text>
</g>
<g id="panel-e" transform="translate(245.6 189.4)">
<g clip-path="url(#frame)">
<g shape-rendering="crispEdges">
<g clip-path="url(#landclip)">
<rect x="1.82" y="-2.68" width="140.74" height="4.54" fill="#edb75a"/><rect x="142.56" y="-2.68" width="68.10" height="4.54" fill="#f0d874"/>
<rect x="1.82" y="1.86" width="140.74" height="4.54" fill="#edb75a"/><rect x="142.56" y="1.86" width="68.10" height="4.54" fill="#f0d874"/>
<rect x="1.82" y="6.40" width="140.74" height="4.54" fill="#edb75a"/><rect x="142.56" y="6.40" width="68.10" height="4.54" fill="#f0d874"/>
<rect x="1.82" y="10.94" width="140.74" height="4.54" fill="#edb75a"/><rect x="142.56" y="10.94" width="68.10" height="4.54" fill="#f0d874"/>
<rect x="1.82" y="15.48" width="86.26" height="4.54" fill="#edb75a"/><rect x="88.08" y="15.48" width="31.78" height="4.54" fill="#eda049"/><rect x="119.86" y="15.48" width="27.24" height="4.54" fill="#edb75a"/><rect x="147.10" y="15.48" width="63.56" height="4.54" fill="#f0d874"/>
<rect x="1.82" y="20.02" width="68.10" height="4.54" fill="#edb75a"/><rect x="69.92" y="20.02" width="18.16" height="4.54" fill="#eda049"/><rect x="88.08" y="20.02" width="22.70" height="4.54" fill="#ee8a3c"/><rect x="110.78" y="20.02" width="9.08" height="4.54" fill="#eda049"/><rect x="119.86" y="20.02" width="18.16" height="4.54" fill="#edb75a"/><rect x="138.02" y="20.02" width="4.54" height="4.54" fill="#eda049"/><rect x="142.56" y="20.02" width="9.08" height="4.54" fill="#edb75a"/><rect x="151.64" y="20.02" width="59.02" height="4.54" fill="#f0d874"/>
<rect x="1.82" y="24.56" width="63.56" height="4.54" fill="#edb75a"/><rect x="65.38" y="24.56" width="13.62" height="4.54" fill="#eda049"/><rect x="79.00" y="24.56" width="36.32" height="4.54" fill="#ee8a3c"/><rect x="115.32" y="24.56" width="31.78" height="4.54" fill="#eda049"/><rect x="147.10" y="24.56" width="9.08" height="4.54" fill="#edb75a"/><rect x="156.18" y="24.56" width="54.48" height="4.54" fill="#f0d874"/>
<rect x="1.82" y="29.10" width="59.02" height="4.54" fill="#edb75a"/><rect x="60.84" y="29.10" width="9.08" height="4.54" fill="#eda049"/><rect x="69.92" y="29.10" width="68.10" height="4.54" fill="#ee8a3c"/><rect x="138.02" y="29.10" width="13.62" height="4.54" fill="#eda049"/><rect x="151.64" y="29.10" width="4.54" height="4.54" fill="#edb75a"/><rect x="156.18" y="29.10" width="54.48" height="4.54" fill="#f0d874"/>
<rect x="1.82" y="33.64" width="54.48" height="4.54" fill="#edb75a"/><rect x="56.30" y="33.64" width="9.08" height="4.54" fill="#eda049"/><rect x="65.38" y="33.64" width="9.08" height="4.54" fill="#ee8a3c"/><rect x="74.46" y="33.64" width="9.08" height="4.54" fill="#f2643a"/><rect x="83.54" y="33.64" width="59.02" height="4.54" fill="#ee8a3c"/><rect x="142.56" y="33.64" width="9.08" height="4.54" fill="#eda049"/><rect x="151.64" y="33.64" width="9.08" height="4.54" fill="#edb75a"/><rect x="160.72" y="33.64" width="49.94" height="4.54" fill="#f0d874"/>
<rect x="1.82" y="38.18" width="49.94" height="4.54" fill="#edb75a"/><rect x="51.76" y="38.18" width="9.08" height="4.54" fill="#eda049"/><rect x="60.84" y="38.18" width="9.08" height="4.54" fill="#ee8a3c"/><rect x="69.92" y="38.18" width="18.16" height="4.54" fill="#f2643a"/><rect x="88.08" y="38.18" width="59.02" height="4.54" fill="#ee8a3c"/><rect x="147.10" y="38.18" width="9.08" height="4.54" fill="#eda049"/><rect x="156.18" y="38.18" width="4.54" height="4.54" fill="#edb75a"/><rect x="160.72" y="38.18" width="49.94" height="4.54" fill="#f0d874"/>
<rect x="1.82" y="42.72" width="45.40" height="4.54" fill="#edb75a"/><rect x="47.22" y="42.72" width="9.08" height="4.54" fill="#eda049"/><rect x="56.30" y="42.72" width="9.08" height="4.54" fill="#ee8a3c"/><rect x="65.38" y="42.72" width="27.24" height="4.54" fill="#f2643a"/><rect x="92.62" y="42.72" width="59.02" height="4.54" fill="#ee8a3c"/><rect x="151.64" y="42.72" width="9.08" height="4.54" fill="#eda049"/><rect x="160.72" y="42.72" width="4.54" height="4.54" fill="#edb75a"/><rect x="165.26" y="42.72" width="45.40" height="4.54" fill="#f0d874"/>
<rect x="1.82" y="47.26" width="36.32" height="4.54" fill="#edb75a"/><rect x="38.14" y="47.26" width="13.62" height="4.54" fill="#eda049"/><rect x="51.76" y="47.26" width="9.08" height="4.54" fill="#ee8a3c"/><rect x="60.84" y="47.26" width="40.86" height="4.54" fill="#f2643a"/><rect x="101.70" y="47.26" width="22.70" height="4.54" fill="#ee8a3c"/><rect x="124.40" y="47.26" width="18.16" height="4.54" fill="#f2643a"/><rect x="142.56" y="47.26" width="13.62" height="4.54" fill="#ee8a3c"/><rect x="156.18" y="47.26" width="4.54" height="4.54" fill="#eda049"/><rect x="160.72" y="47.26" width="9.08" height="4.54" fill="#edb75a"/><rect x="169.80" y="47.26" width="40.86" height="4.54" fill="#f0d874"/>
<rect x="1.82" y="51.80" width="27.24" height="4.54" fill="#edb75a"/><rect x="29.06" y="51.80" width="9.08" height="4.54" fill="#eda049"/><rect x="38.14" y="51.80" width="18.16" height="4.54" fill="#ee8a3c"/><rect x="56.30" y="51.80" width="40.86" height="4.54" fill="#f2643a"/><rect x="97.16" y="51.80" width="27.24" height="4.54" fill="#ee8a3c"/><rect x="124.40" y="51.80" width="22.70" height="4.54" fill="#f2643a"/><rect x="147.10" y="51.80" width="9.08" height="4.54" fill="#ee8a3c"/><rect x="156.18" y="51.80" width="9.08" height="4.54" fill="#eda049"/><rect x="165.26" y="51.80" width="9.08" height="4.54" fill="#edb75a"/><rect x="174.34" y="51.80" width="36.32" height="4.54" fill="#f0d874"/>
<rect x="1.82" y="56.34" width="22.70" height="4.54" fill="#edb75a"/><rect x="24.52" y="56.34" width="4.54" height="4.54" fill="#eda049"/><rect x="29.06" y="56.34" width="9.08" height="4.54" fill="#ee8a3c"/><rect x="38.14" y="56.34" width="59.02" height="4.54" fill="#f2643a"/><rect x="97.16" y="56.34" width="22.70" height="4.54" fill="#ee8a3c"/><rect x="119.86" y="56.34" width="31.78" height="4.54" fill="#f2643a"/><rect x="151.64" y="56.34" width="9.08" height="4.54" fill="#ee8a3c"/><rect x="160.72" y="56.34" width="4.54" height="4.54" fill="#eda049"/><rect x="165.26" y="56.34" width="13.62" height="4.54" fill="#edb75a"/><rect x="178.88" y="56.34" width="31.78" height="4.54" fill="#f0d874"/>
<rect x="1.82" y="60.88" width="18.16" height="4.54" fill="#edb75a"/><rect x="19.98" y="60.88" width="4.54" height="4.54" fill="#eda049"/><rect x="24.52" y="60.88" width="13.62" height="4.54" fill="#ee8a3c"/><rect x="38.14" y="60.88" width="54.48" height="4.54" fill="#f2643a"/><rect x="92.62" y="60.88" width="27.24" height="4.54" fill="#ee8a3c"/><rect x="119.86" y="60.88" width="31.78" height="4.54" fill="#f2643a"/><rect x="151.64" y="60.88" width="9.08" height="4.54" fill="#ee8a3c"/><rect x="160.72" y="60.88" width="9.08" height="4.54" fill="#eda049"/><rect x="169.80" y="60.88" width="13.62" height="4.54" fill="#edb75a"/><rect x="183.42" y="60.88" width="27.24" height="4.54" fill="#f0d874"/>
<rect x="1.82" y="65.42" width="18.16" height="4.54" fill="#edb75a"/><rect x="19.98" y="65.42" width="4.54" height="4.54" fill="#eda049"/><rect x="24.52" y="65.42" width="9.08" height="4.54" fill="#ee8a3c"/><rect x="33.60" y="65.42" width="59.02" height="4.54" fill="#f2643a"/><rect x="92.62" y="65.42" width="31.78" height="4.54" fill="#ee8a3c"/><rect x="124.40" y="65.42" width="27.24" height="4.54" fill="#f2643a"/><rect x="151.64" y="65.42" width="13.62" height="4.54" fill="#ee8a3c"/><rect x="165.26" y="65.42" width="9.08" height="4.54" fill="#eda049"/><rect x="174.34" y="65.42" width="9.08" height="4.54" fill="#edb75a"/><rect x="183.42" y="65.42" width="27.24" height="4.54" fill="#f0d874"/>
<rect x="1.82" y="69.96" width="18.16" height="4.54" fill="#edb75a"/><rect x="19.98" y="69.96" width="4.54" height="4.54" fill="#eda049"/><rect x="24.52" y="69.96" width="9.08" height="4.54" fill="#ee8a3c"/><rect x="33.60" y="69.96" width="54.48" height="4.54" fill="#f2643a"/><rect x="88.08" y="69.96" width="36.32" height="4.54" fill="#ee8a3c"/><rect x="124.40" y="69.96" width="27.24" height="4.54" fill="#f2643a"/><rect x="151.64" y="69.96" width="13.62" height="4.54" fill="#ee8a3c"/><rect x="165.26" y="69.96" width="13.62" height="4.54" fill="#eda049"/><rect x="178.88" y="69.96" width="9.08" height="4.54" fill="#edb75a"/><rect x="187.96" y="69.96" width="22.70" height="4.54" fill="#f0d874"/>
<rect x="1.82" y="74.50" width="18.16" height="4.54" fill="#edb75a"/><rect x="19.98" y="74.50" width="4.54" height="4.54" fill="#eda049"/><rect x="24.52" y="74.50" width="13.62" height="4.54" fill="#ee8a3c"/><rect x="38.14" y="74.50" width="18.16" height="4.54" fill="#f2643a"/><rect x="56.30" y="74.50" width="40.86" height="4.54" fill="#ee8a3c"/><rect x="97.16" y="74.50" width="22.70" height="4.54" fill="#eda049"/><rect x="119.86" y="74.50" width="22.70" height="4.54" fill="#ee8a3c"/><rect x="142.56" y="74.50" width="4.54" height="4.54" fill="#f2643a"/><rect x="147.10" y="74.50" width="22.70" height="4.54" fill="#ee8a3c"/><rect x="169.80" y="74.50" width="13.62" height="4.54" fill="#eda049"/><rect x="183.42" y="74.50" width="9.08" height="4.54" fill="#edb75a"/><rect x="192.50" y="74.50" width="18.16" height="4.54" fill="#f0d874"/>
<rect x="1.82" y="79.04" width="22.70" height="4.54" fill="#edb75a"/><rect x="24.52" y="79.04" width="4.54" height="4.54" fill="#eda049"/><rect x="29.06" y="79.04" width="68.10" height="4.54" fill="#ee8a3c"/><rect x="97.16" y="79.04" width="22.70" height="4.54" fill="#eda049"/><rect x="119.86" y="79.04" width="22.70" height="4.54" fill="#ee8a3c"/><rect x="142.56" y="79.04" width="4.54" height="4.54" fill="#f2643a"/><rect x="147.10" y="79.04" width="36.32" height="4.54" fill="#ee8a3c"/><rect x="183.42" y="79.04" width="4.54" height="4.54" fill="#eda049"/><rect x="187.96" y="79.04" width="4.54" height="4.54" fill="#edb75a"/><rect x="192.50" y="79.04" width="18.16" height="4.54" fill="#f0d874"/>
<rect x="1.82" y="83.58" width="22.70" height="4.54" fill="#edb75a"/><rect x="24.52" y="83.58" width="4.54" height="4.54" fill="#eda049"/><rect x="29.06" y="83.58" width="27.24" height="4.54" fill="#ee8a3c"/><rect x="56.30" y="83.58" width="63.56" height="4.54" fill="#eda049"/><rect x="119.86" y="83.58" width="63.56" height="4.54" fill="#ee8a3c"/><rect x="183.42" y="83.58" width="4.54" height="4.54" fill="#eda049"/><rect x="187.96" y="83.58" width="4.54" height="4.54" fill="#edb75a"/><rect x="192.50" y="83.58" width="18.16" height="4.54" fill="#f0d874"/>
<rect x="1.82" y="88.12" width="27.24" height="4.54" fill="#edb75a"/><rect x="29.06" y="88.12" width="4.54" height="4.54" fill="#eda049"/><rect x="33.60" y="88.12" width="9.08" height="4.54" fill="#ee8a3c"/><rect x="42.68" y="88.12" width="45.40" height="4.54" fill="#eda049"/><rect x="88.08" y="88.12" width="22.70" height="4.54" fill="#edb75a"/><rect x="110.78" y="88.12" width="49.94" height="4.54" fill="#eda049"/><rect x="160.72" y="88.12" width="27.24" height="4.54" fill="#ee8a3c"/><rect x="187.96" y="88.12" width="4.54" height="4.54" fill="#edb75a"/><rect x="192.50" y="88.12" width="18.16" height="4.54" fill="#f0d874"/>
<rect x="1.82" y="92.66" width="27.24" height="4.54" fill="#edb75a"/><rect x="29.06" y="92.66" width="36.32" height="4.54" fill="#eda049"/><rect x="65.38" y="92.66" width="54.48" height="4.54" fill="#edb75a"/><rect x="119.86" y="92.66" width="40.86" height="4.54" fill="#eda049"/><rect x="160.72" y="92.66" width="27.24" height="4.54" fill="#ee8a3c"/><rect x="187.96" y="92.66" width="4.54" height="4.54" fill="#edb75a"/><rect x="192.50" y="92.66" width="18.16" height="4.54" fill="#f0d874"/>
<rect x="1.82" y="97.20" width="63.56" height="4.54" fill="#edb75a"/><rect x="65.38" y="97.20" width="49.94" height="4.54" fill="#f0d874"/><rect x="115.32" y="97.20" width="13.62" height="4.54" fill="#edb75a"/><rect x="128.94" y="97.20" width="49.94" height="4.54" fill="#eda049"/><rect x="178.88" y="97.20" width="4.54" height="4.54" fill="#ee8a3c"/><rect x="183.42" y="97.20" width="4.54" height="4.54" fill="#eda049"/><rect x="187.96" y="97.20" width="4.54" height="4.54" fill="#edb75a"/><rect x="192.50" y="97.20" width="18.16" height="4.54" fill="#f0d874"/>
<rect x="1.82" y="101.74" width="63.56" height="4.54" fill="#f0d874"/><rect x="65.38" y="101.74" width="49.94" height="4.54" fill="#f3e78e"/><rect x="115.32" y="101.74" width="9.08" height="4.54" fill="#f0d874"/><rect x="124.40" y="101.74" width="18.16" height="4.54" fill="#edb75a"/><rect x="142.56" y="101.74" width="45.40" height="4.54" fill="#eda049"/><rect x="187.96" y="101.74" width="4.54" height="4.54" fill="#edb75a"/><rect x="192.50" y="101.74" width="18.16" height="4.54" fill="#f0d874"/>
<rect x="1.82" y="106.28" width="122.58" height="4.54" fill="#f3e78e"/><rect x="124.40" y="106.28" width="9.08" height="4.54" fill="#f0d874"/><rect x="133.48" y="106.28" width="18.16" height="4.54" fill="#edb75a"/><rect x="151.64" y="106.28" width="36.32" height="4.54" fill="#eda049"/><rect x="187.96" y="106.28" width="22.70" height="4.54" fill="#f0d874"/>
<rect x="1.82" y="110.82" width="131.66" height="4.54" fill="#f3e78e"/><rect x="133.48" y="110.82" width="9.08" height="4.54" fill="#f0d874"/><rect x="142.56" y="110.82" width="13.62" height="4.54" fill="#edb75a"/><rect x="156.18" y="110.82" width="27.24" height="4.54" fill="#eda049"/><rect x="183.42" y="110.82" width="27.24" height="4.54" fill="#f0d874"/>
<rect x="1.82" y="115.36" width="136.20" height="4.54" fill="#f3e78e"/><rect x="138.02" y="115.36" width="9.08" height="4.54" fill="#f0d874"/><rect x="147.10" y="115.36" width="13.62" height="4.54" fill="#edb75a"/><rect x="160.72" y="115.36" width="18.16" height="4.54" fill="#eda049"/><rect x="178.88" y="115.36" width="4.54" height="4.54" fill="#edb75a"/><rect x="183.42" y="115.36" width="27.24" height="4.54" fill="#f0d874"/>
<rect x="1.82" y="119.90" width="136.20" height="4.54" fill="#f3e78e"/><rect x="138.02" y="119.90" width="18.16" height="4.54" fill="#f0d874"/><rect x="156.18" y="119.90" width="22.70" height="4.54" fill="#edb75a"/><rect x="178.88" y="119.90" width="31.78" height="4.54" fill="#f0d874"/>
<rect x="1.82" y="124.44" width="140.74" height="4.54" fill="#f3e78e"/><rect x="142.56" y="124.44" width="22.70" height="4.54" fill="#f0d874"/><rect x="165.26" y="124.44" width="13.62" height="4.54" fill="#edb75a"/><rect x="178.88" y="124.44" width="31.78" height="4.54" fill="#f0d874"/>
<rect x="1.82" y="128.98" width="149.82" height="4.54" fill="#f3e78e"/><rect x="151.64" y="128.98" width="59.02" height="4.54" fill="#f0d874"/>
<rect x="1.82" y="133.52" width="149.82" height="4.54" fill="#f3e78e"/><rect x="151.64" y="133.52" width="59.02" height="4.54" fill="#f0d874"/>
<rect x="1.82" y="138.06" width="208.84" height="4.54" fill="#f3e78e"/>
<rect x="1.82" y="142.60" width="167.98" height="4.54" fill="#f3e78e"/><rect x="169.80" y="142.60" width="9.08" height="4.54" fill="#f0d874"/><rect x="178.88" y="142.60" width="31.78" height="4.54" fill="#f3e78e"/>
<rect x="1.82" y="147.14" width="208.84" height="4.54" fill="#f3e78e"/>
<rect x="1.82" y="151.68" width="154.36" height="4.54" fill="#f3e78e"/><rect x="156.18" y="151.68" width="9.08" height="4.54" fill="#f6f6b2"/><rect x="165.26" y="151.68" width="45.40" height="4.54" fill="#f3e78e"/>
<rect x="1.82" y="156.22" width="154.36" height="4.54" fill="#f3e78e"/><rect x="156.18" y="156.22" width="9.08" height="4.54" fill="#f6f6b2"/><rect x="165.26" y="156.22" width="45.40" height="4.54" fill="#f3e78e"/>
</g>
</g>
<use href="#coast"/><use href="#borders"/>
</g>
<rect x="0" y="0" width="208.5" height="160.0" fill="none" stroke="#555" stroke-width="0.9"/>
<text x="104.2" y="-3.2" font-size="10.8" text-anchor="middle">N2.0 SSP2-4.5</text>
<text x="4.0" y="11.9" font-size="10.9">e</text>
<text x="2.0" y="156.9" font-size="9.1">Δ</text><rect x="2.2" y="147.1" width="6.9" height="0.6" fill="#444"/><text x="10.6" y="156.9" font-size="9.1">:</text><text x="16.3" y="156.9" font-size="9.2">2.14</text><text x="42.0" y="156.9" font-size="9.2">°C</text>
<text x="22.5" y="168.6" font-size="7.15" text-anchor="middle">115°E</text><text x="67.9" y="168.6" font-size="7.15" text-anchor="middle">125°E</text><text x="113.3" y="168.6" font-size="7.15" text-anchor="middle">135°E</text><text x="158.7" y="168.6" font-size="7.15" text-anchor="middle">145°E</text><text x="204.1" y="168.6" font-size="7.15" text-anchor="middle">155°E</text>
</g>
<g id="panel-f" transform="translate(468.2 189.4)">
<g clip-path="url(#frame)">
<g shape-rendering="crispEdges">
<g clip-path="url(#landclip)">
<rect x="1.82" y="-2.68" width="208.84" height="4.54" fill="#eda049"/>
<rect x="1.82" y="1.86" width="208.84" height="4.54" fill="#eda049"/>
<rect x="1.82" y="6.40" width="208.84" height="4.54" fill="#eda049"/>
<rect x="1.82" y="10.94" width="113.50" height="4.54" fill="#ee8a3c"/><rect x="115.32" y="10.94" width="95.34" height="4.54" fill="#eda049"/>
<rect x="1.82" y="15.48" width="95.34" height="4.54" fill="#f2643a"/><rect x="97.16" y="15.48" width="13.62" height="4.54" fill="#ee3e28"/><rect x="110.78" y="15.48" width="4.54" height="4.54" fill="#f2643a"/><rect x="115.32" y="15.48" width="31.78" height="4.54" fill="#ee8a3c"/><rect x="147.10" y="15.48" width="63.56" height="4.54" fill="#eda049"/>
<rect x="1.82" y="20.02" width="90.80" height="4.54" fill="#f2643a"/><rect x="92.62" y="20.02" width="4.54" height="4.54" fill="#ee3e28"/><rect x="97.16" y="20.02" width="18.16" height="4.54" fill="#e12426"/><rect x="115.32" y="20.02" width="4.54" height="4.54" fill="#ee3e28"/><rect x="119.86" y="20.02" width="4.54" height="4.54" fill="#f2643a"/><rect x="124.40" y="20.02" width="27.24" height="4.54" fill="#ee8a3c"/><rect x="151.64" y="20.02" width="59.02" height="4.54" fill="#eda049"/>
<rect x="1.82" y="24.56" width="72.64" height="4.54" fill="#f2643a"/><rect x="74.46" y="24.56" width="13.62" height="4.54" fill="#ee3e28"/><rect x="88.08" y="24.56" width="27.24" height="4.54" fill="#e12426"/><rect x="115.32" y="24.56" width="4.54" height="4.54" fill="#ee3e28"/><rect x="119.86" y="24.56" width="31.78" height="4.54" fill="#f2643a"/><rect x="151.64" y="24.56" width="4.54" height="4.54" fill="#ee8a3c"/><rect x="156.18" y="24.56" width="54.48" height="4.54" fill="#eda049"/>
<rect x="1.82" y="29.10" width="68.10" height="4.54" fill="#f2643a"/><rect x="69.92" y="29.10" width="4.54" height="4.54" fill="#ee3e28"/><rect x="74.46" y="29.10" width="45.40" height="4.54" fill="#e12426"/><rect x="119.86" y="29.10" width="4.54" height="4.54" fill="#ee3e28"/><rect x="124.40" y="29.10" width="27.24" height="4.54" fill="#f2643a"/><rect x="151.64" y="29.10" width="4.54" height="4.54" fill="#ee8a3c"/><rect x="156.18" y="29.10" width="54.48" height="4.54" fill="#eda049"/>
<rect x="1.82" y="33.64" width="63.56" height="4.54" fill="#f2643a"/><rect x="65.38" y="33.64" width="4.54" height="4.54" fill="#ee3e28"/><rect x="69.92" y="33.64" width="54.48" height="4.54" fill="#e12426"/><rect x="124.40" y="33.64" width="22.70" height="4.54" fill="#ee3e28"/><rect x="147.10" y="33.64" width="9.08" height="4.54" fill="#f2643a"/><rect x="156.18" y="33.64" width="4.54" height="4.54" fill="#ee8a3c"/><rect x="160.72" y="33.64" width="49.94" height="4.54" fill="#eda049"/>
<rect x="1.82" y="38.18" width="59.02" height="4.54" fill="#f2643a"/><rect x="60.84" y="38.18" width="4.54" height="4.54" fill="#ee3e28"/><rect x="65.38" y="38.18" width="40.86" height="4.54" fill="#e12426"/><rect x="106.24" y="38.18" width="4.54" height="4.54" fill="#ca1f2a"/><rect x="110.78" y="38.18" width="18.16" height="4.54" fill="#e12426"/><rect x="128.94" y="38.18" width="22.70" height="4.54" fill="#ee3e28"/><rect x="151.64" y="38.18" width="9.08" height="4.54" fill="#f2643a"/><rect x="160.72" y="38.18" width="4.54" height="4.54" fill="#ee8a3c"/><rect x="165.26" y="38.18" width="45.40" height="4.54" fill="#eda049"/>
<rect x="1.82" y="42.72" width="49.94" height="4.54" fill="#f2643a"/><rect x="51.76" y="42.72" width="4.54" height="4.54" fill="#ee3e28"/><rect x="56.30" y="42.72" width="4.54" height="4.54" fill="#e12426"/><rect x="60.84" y="42.72" width="54.48" height="4.54" fill="#ca1f2a"/><rect x="115.32" y="42.72" width="27.24" height="4.54" fill="#e12426"/><rect x="142.56" y="42.72" width="13.62" height="4.54" fill="#ee3e28"/><rect x="156.18" y="42.72" width="4.54" height="4.54" fill="#f2643a"/><rect x="160.72" y="42.72" width="4.54" height="4.54" fill="#ee8a3c"/><rect x="165.26" y="42.72" width="45.40" height="4.54" fill="#eda049"/>
<rect x="1.82" y="47.26" width="40.86" height="4.54" fill="#ee8a3c"/><rect x="42.68" y="47.26" width="4.54" height="4.54" fill="#f2643a"/><rect x="47.22" y="47.26" width="4.54" height="4.54" fill="#ee3e28"/><rect x="51.76" y="47.26" width="4.54" height="4.54" fill="#e12426"/><rect x="56.30" y="47.26" width="63.56" height="4.54" fill="#ca1f2a"/><rect x="119.86" y="47.26" width="27.24" height="4.54" fill="#e12426"/><rect x="147.10" y="47.26" width="13.62" height="4.54" fill="#ee3e28"/><rect x="160.72" y="47.26" width="4.54" height="4.54" fill="#f2643a"/><rect x="165.26" y="47.26" width="4.54" height="4.54" fill="#ee8a3c"/><rect x="169.80" y="47.26" width="40.86" height="4.54" fill="#eda049"/>
<rect x="1.82" y="51.80" width="27.24" height="4.54" fill="#f2643a"/><rect x="29.06" y="51.80" width="9.08" height="4.54" fill="#ee3e28"/><rect x="38.14" y="51.80" width="9.08" height="4.54" fill="#e12426"/><rect x="47.22" y="51.80" width="77.18" height="4.54" fill="#ca1f2a"/><rect x="124.40" y="51.80" width="27.24" height="4.54" fill="#e12426"/><rect x="151.64" y="51.80" width="13.62" height="4.54" fill="#ee3e28"/><rect x="165.26" y="51.80" width="4.54" height="4.54" fill="#f2643a"/><rect x="169.80" y="51.80" width="4.54" height="4.54" fill="#ee8a3c"/><rect x="174.34" y="51.80" width="36.32" height="4.54" fill="#eda049"/>
<rect x="1.82" y="56.34" width="18.16" height="4.54" fill="#ee8a3c"/><rect x="19.98" y="56.34" width="4.54" height="4.54" fill="#ee3e28"/><rect x="24.52" y="56.34" width="4.54" height="4.54" fill="#e12426"/><rect x="29.06" y="56.34" width="27.24" height="4.54" fill="#ca1f2a"/><rect x="56.30" y="56.34" width="31.78" height="4.54" fill="#a7172b"/><rect x="88.08" y="56.34" width="36.32" height="4.54" fill="#ca1f2a"/><rect x="124.40" y="56.34" width="9.08" height="4.54" fill="#e12426"/><rect x="133.48" y="56.34" width="13.62" height="4.54" fill="#ca1f2a"/><rect x="147.10" y="56.34" width="9.08" height="4.54" fill="#e12426"/><rect x="156.18" y="56.34" width="13.62" height="4.54" fill="#ee3e28"/><rect x="169.80" y="56.34" width="4.54" height="4.54" fill="#f2643a"/><rect x="174.34" y="56.34" width="4.54" height="4.54" fill="#ee8a3c"/><rect x="178.88" y="56.34" width="31.78" height="4.54" fill="#eda049"/>
<rect x="1.82" y="60.88" width="18.16" height="4.54" fill="#ee8a3c"/><rect x="19.98" y="60.88" width="4.54" height="4.54" fill="#ee3e28"/><rect x="24.52" y="60.88" width="4.54" height="4.54" fill="#e12426"/><rect x="29.06" y="60.88" width="13.62" height="4.54" fill="#ca1f2a"/><rect x="42.68" y="60.88" width="45.40" height="4.54" fill="#a7172b"/><rect x="88.08" y="60.88" width="68.10" height="4.54" fill="#ca1f2a"/><rect x="156.18" y="60.88" width="9.08" height="4.54" fill="#e12426"/><rect x="165.26" y="60.88" width="4.54" height="4.54" fill="#ee3e28"/><rect x="169.80" y="60.88" width="4.54" height="4.54" fill="#f2643a"/><rect x="174.34" y="60.88" width="4.54" height="4.54" fill="#ee8a3c"/><rect x="178.88" y="60.88" width="31.78" height="4.54" fill="#eda049"/>
<rect x="1.82" y="65.42" width="18.16" height="4.54" fill="#ee8a3c"/><rect x="19.98" y="65.42" width="4.54" height="4.54" fill="#ee3e28"/><rect x="24.52" y="65.42" width="4.54" height="4.54" fill="#e12426"/><rect x="29.06" y="65.42" width="9.08" height="4.54" fill="#ca1f2a"/><rect x="38.14" y="65.42" width="49.94" height="4.54" fill="#a7172b"/><rect x="88.08" y="65.42" width="72.64" height="4.54" fill="#ca1f2a"/><rect x="160.72" y="65.42" width="9.08" height="4.54" fill="#e12426"/><rect x="169.80" y="65.42" width="4.54" height="4.54" fill="#ee3e28"/><rect x="174.34" y="65.42" width="4.54" height="4.54" fill="#f2643a"/><rect x="178.88" y="65.42" width="4.54" height="4.54" fill="#ee8a3c"/><rect x="183.42" y="65.42" width="27.24" height="4.54" fill="#eda049"/>
<rect x="1.82" y="69.96" width="18.16" height="4.54" fill="#ee8a3c"/><rect x="19.98" y="69.96" width="4.54" height="4.54" fill="#ee3e28"/><rect x="24.52" y="69.96" width="4.54" height="4.54" fill="#e12426"/><rect x="29.06" y="69.96" width="18.16" height="4.54" fill="#ca1f2a"/><rect x="47.22" y="69.96" width="40.86" height="4.54" fill="#a7172b"/><rect x="88.08" y="69.96" width="72.64" height="4.54" fill="#ca1f2a"/><rect x="160.72" y="69.96" width="13.62" height="4.54" fill="#e12426"/><rect x="174.34" y="69.96" width="4.54" height="4.54" fill="#ee3e28"/><rect x="178.88" y="69.96" width="4.54" height="4.54" fill="#f2643a"/><rect x="183.42" y="69.96" width="4.54" height="4.54" fill="#ee8a3c"/><rect x="187.96" y="69.96" width="22.70" height="4.54" fill="#eda049"/>
<rect x="1.82" y="74.50" width="18.16" height="4.54" fill="#ee8a3c"/><rect x="19.98" y="74.50" width="4.54" height="4.54" fill="#ee3e28"/><rect x="24.52" y="74.50" width="4.54" height="4.54" fill="#e12426"/><rect x="29.06" y="74.50" width="54.48" height="4.54" fill="#ca1f2a"/><rect x="83.54" y="74.50" width="36.32" height="4.54" fill="#e12426"/><rect x="119.86" y="74.50" width="40.86" height="4.54" fill="#ca1f2a"/><rect x="160.72" y="74.50" width="18.16" height="4.54" fill="#e12426"/><rect x="178.88" y="74.50" width="4.54" height="4.54" fill="#ee3e28"/><rect x="183.42" y="74.50" width="4.54" height="4.54" fill="#f2643a"/><rect x="187.96" y="74.50" width="4.54" height="4.54" fill="#ee8a3c"/><rect x="192.50" y="74.50" width="18.16" height="4.54" fill="#eda049"/>
<rect x="1.82" y="79.04" width="18.16" height="4.54" fill="#f2643a"/><rect x="19.98" y="79.04" width="4.54" height="4.54" fill="#ee3e28"/><rect x="24.52" y="79.04" width="4.54" height="4.54" fill="#e12426"/><rect x="29.06" y="79.04" width="31.78" height="4.54" fill="#ca1f2a"/><rect x="60.84" y="79.04" width="59.02" height="4.54" fill="#e12426"/><rect x="119.86" y="79.04" width="40.86" height="4.54" fill="#ca1f2a"/><rect x="160.72" y="79.04" width="18.16" height="4.54" fill="#e12426"/><rect x="178.88" y="79.04" width="4.54" height="4.54" fill="#ee3e28"/><rect x="183.42" y="79.04" width="4.54" height="4.54" fill="#f2643a"/><rect x="187.96" y="79.04" width="4.54" height="4.54" fill="#ee8a3c"/><rect x="192.50" y="79.04" width="18.16" height="4.54" fill="#eda049"/>
<rect x="1.82" y="83.58" width="18.16" height="4.54" fill="#ee8a3c"/><rect x="19.98" y="83.58" width="4.54" height="4.54" fill="#f2643a"/><rect x="24.52" y="83.58" width="4.54" height="4.54" fill="#ee3e28"/><rect x="29.06" y="83.58" width="18.16" height="4.54" fill="#ca1f2a"/><rect x="47.22" y="83.58" width="27.24" height="4.54" fill="#e12426"/><rect x="74.46" y="83.58" width="22.70" height="4.54" fill="#ee3e28"/><rect x="97.16" y="83.58" width="86.26" height="4.54" fill="#e12426"/><rect x="183.42" y="83.58" width="4.54" height="4.54" fill="#ee3e28"/><rect x="187.96" y="83.58" width="4.54" height="4.54" fill="#f2643a"/><rect x="192.50" y="83.58" width="4.54" height="4.54" fill="#ee8a3c"/><rect x="197.04" y="83.58" width="13.62" height="4.54" fill="#eda049"/>
<rect x="1.82" y="88.12" width="18.16" height="4.54" fill="#ee8a3c"/><rect x="19.98" y="88.12" width="4.54" height="4.54" fill="#f2643a"/><rect x="24.52" y="88.12" width="4.54" height="4.54" fill="#ee3e28"/><rect x="29.06" y="88.12" width="22.70" height="4.54" fill="#e12426"/><rect x="51.76" y="88.12" width="22.70" height="4.54" fill="#ee3e28"/><rect x="74.46" y="88.12" width="4.54" height="4.54" fill="#f2643a"/><rect x="79.00" y="88.12" width="9.08" height="4.54" fill="#ee8a3c"/><rect x="88.08" y="88.12" width="9.08" height="4.54" fill="#f2643a"/><rect x="97.16" y="88.12" width="13.62" height="4.54" fill="#ee3e28"/><rect x="110.78" y="88.12" width="72.64" height="4.54" fill="#e12426"/><rect x="183.42" y="88.12" width="4.54" height="4.54" fill="#ee3e28"/><rect x="187.96" y="88.12" width="4.54" height="4.54" fill="#f2643a"/><rect x="192.50" y="88.12" width="4.54" height="4.54" fill="#ee8a3c"/><rect x="197.04" y="88.12" width="13.62" height="4.54" fill="#eda049"/>
<rect x="1.82" y="92.66" width="22.70" height="4.54" fill="#ee8a3c"/><rect x="24.52" y="92.66" width="4.54" height="4.54" fill="#f2643a"/><rect x="29.06" y="92.66" width="18.16" height="4.54" fill="#e12426"/><rect x="47.22" y="92.66" width="13.62" height="4.54" fill="#ee3e28"/><rect x="60.84" y="92.66" width="13.62" height="4.54" fill="#f2643a"/><rect x="74.46" y="92.66" width="4.54" height="4.54" fill="#ee8a3c"/><rect x="79.00" y="92.66" width="9.08" height="4.54" fill="#eda049"/><rect x="88.08" y="92.66" width="4.54" height="4.54" fill="#ee8a3c"/><rect x="92.62" y="92.66" width="9.08" height="4.54" fill="#f2643a"/><rect x="101.70" y="92.66" width="40.86" height="4.54" fill="#ee3e28"/><rect x="142.56" y="92.66" width="40.86" height="4.54" fill="#e12426"/><rect x="183.42" y="92.66" width="4.54" height="4.54" fill="#ee3e28"/><rect x="187.96" y="92.66" width="4.54" height="4.54" fill="#f2643a"/><rect x="192.50" y="92.66" width="4.54" height="4.54" fill="#ee8a3c"/><rect x="197.04" y="92.66" width="13.62" height="4.54" fill="#eda049"/>
<rect x="1.82" y="97.20" width="22.70" height="4.54" fill="#eda049"/><rect x="24.52" y="97.20" width="4.54" height="4.54" fill="#ee8a3c"/><rect x="29.06" y="97.20" width="18.16" height="4.54" fill="#ee3e28"/><rect x="47.22" y="97.20" width="9.08" height="4.54" fill="#f2643a"/><rect x="56.30" y="97.20" width="13.62" height="4.54" fill="#ee8a3c"/><rect x="69.92" y="97.20" width="9.08" height="4.54" fill="#eda049"/><rect x="79.00" y="97.20" width="9.08" height="4.54" fill="#edb75a"/><rect x="88.08" y="97.20" width="4.54" height="4.54" fill="#eda049"/><rect x="92.62" y="97.20" width="9.08" height="4.54" fill="#ee8a3c"/><rect x="101.70" y="97.20" width="9.08" height="4.54" fill="#f2643a"/><rect x="110.78" y="97.20" width="49.94" height="4.54" fill="#ee3e28"/><rect x="160.72" y="97.20" width="22.70" height="4.54" fill="#e12426"/><rect x="183.42" y="97.20" width="4.54" height="4.54" fill="#ee3e28"/><rect x="187.96" y="97.20" width="4.54" height="4.54" fill="#f2643a"/><rect x="192.50" y="97.20" width="4.54" height="4.54" fill="#ee8a3c"/><rect x="197.04" y="97.20" width="13.62" height="4.54" fill="#eda049"/>
<rect x="1.82" y="101.74" width="22.70" height="4.54" fill="#edb75a"/><rect x="24.52" y="101.74" width="4.54" height="4.54" fill="#eda049"/><rect x="29.06" y="101.74" width="18.16" height="4.54" fill="#f2643a"/><rect x="47.22" y="101.74" width="9.08" height="4.54" fill="#ee8a3c"/><rect x="56.30" y="101.74" width="9.08" height="4.54" fill="#eda049"/><rect x="65.38" y="101.74" width="36.32" height="4.54" fill="#edb75a"/><rect x="101.70" y="101.74" width="4.54" height="4.54" fill="#eda049"/><rect x="106.24" y="101.74" width="4.54" height="4.54" fill="#ee8a3c"/><rect x="110.78" y="101.74" width="9.08" height="4.54" fill="#f2643a"/><rect x="119.86" y="101.74" width="45.40" height="4.54" fill="#ee3e28"/><rect x="165.26" y="101.74" width="18.16" height="4.54" fill="#e12426"/><rect x="183.42" y="101.74" width="4.54" height="4.54" fill="#ee3e28"/><rect x="187.96" y="101.74" width="4.54" height="4.54" fill="#f2643a"/><rect x="192.50" y="101.74" width="18.16" height="4.54" fill="#ee8a3c"/>
<rect x="1.82" y="106.28" width="22.70" height="4.54" fill="#edb75a"/><rect x="24.52" y="106.28" width="4.54" height="4.54" fill="#eda049"/><rect x="29.06" y="106.28" width="18.16" height="4.54" fill="#ee8a3c"/><rect x="47.22" y="106.28" width="59.02" height="4.54" fill="#edb75a"/><rect x="106.24" y="106.28" width="4.54" height="4.54" fill="#eda049"/><rect x="110.78" y="106.28" width="4.54" height="4.54" fill="#ee8a3c"/><rect x="115.32" y="106.28" width="27.24" height="4.54" fill="#f2643a"/><rect x="142.56" y="106.28" width="40.86" height="4.54" fill="#ee3e28"/><rect x="183.42" y="106.28" width="4.54" height="4.54" fill="#f2643a"/><rect x="187.96" y="106.28" width="22.70" height="4.54" fill="#ee8a3c"/>
<rect x="1.82" y="110.82" width="27.24" height="4.54" fill="#edb75a"/><rect x="29.06" y="110.82" width="13.62" height="4.54" fill="#eda049"/><rect x="42.68" y="110.82" width="72.64" height="4.54" fill="#edb75a"/><rect x="115.32" y="110.82" width="13.62" height="4.54" fill="#eda049"/><rect x="128.94" y="110.82" width="4.54" height="4.54" fill="#ee8a3c"/><rect x="133.48" y="110.82" width="27.24" height="4.54" fill="#f2643a"/><rect x="160.72" y="110.82" width="22.70" height="4.54" fill="#ee3e28"/><rect x="183.42" y="110.82" width="4.54" height="4.54" fill="#f2643a"/><rect x="187.96" y="110.82" width="22.70" height="4.54" fill="#ee8a3c"/>
<rect x="1.82" y="115.36" width="27.24" height="4.54" fill="#f0d874"/><rect x="29.06" y="115.36" width="104.42" height="4.54" fill="#edb75a"/><rect x="133.48" y="115.36" width="4.54" height="4.54" fill="#eda049"/><rect x="138.02" y="115.36" width="4.54" height="4.54" fill="#ee8a3c"/><rect x="142.56" y="115.36" width="22.70" height="4.54" fill="#f2643a"/><rect x="165.26" y="115.36" width="18.16" height="4.54" fill="#ee3e28"/><rect x="183.42" y="115.36" width="4.54" height="4.54" fill="#f2643a"/><rect x="187.96" y="115.36" width="22.70" height="4.54" fill="#ee8a3c"/>
<rect x="1.82" y="119.90" width="131.66" height="4.54" fill="#f0d874"/><rect x="133.48" y="119.90" width="4.54" height="4.54" fill="#edb75a"/><rect x="138.02" y="119.90" width="4.54" height="4.54" fill="#eda049"/><rect x="142.56" y="119.90" width="13.62" height="4.54" fill="#ee8a3c"/><rect x="156.18" y="119.90" width="18.16" height="4.54" fill="#f2643a"/><rect x="174.34" y="119.90" width="9.08" height="4.54" fill="#ee3e28"/><rect x="183.42" y="119.90" width="27.24" height="4.54" fill="#f2643a"/>
<rect x="1.82" y="124.44" width="131.66" height="4.54" fill="#f0d874"/><rect x="133.48" y="124.44" width="9.08" height="4.54" fill="#edb75a"/><rect x="142.56" y="124.44" width="9.08" height="4.54" fill="#eda049"/><rect x="151.64" y="124.44" width="18.16" height="4.54" fill="#ee8a3c"/><rect x="169.80" y="124.44" width="40.86" height="4.54" fill="#f2643a"/>
<rect x="1.82" y="128.98" width="136.20" height="4.54" fill="#f0d874"/><rect x="138.02" y="128.98" width="9.08" height="4.54" fill="#edb75a"/><rect x="147.10" y="128.98" width="13.62" height="4.54" fill="#eda049"/><rect x="160.72" y="128.98" width="49.94" height="4.54" fill="#ee8a3c"/>
<rect x="1.82" y="133.52" width="163.44" height="4.54" fill="#edb75a"/><rect x="165.26" y="133.52" width="45.40" height="4.54" fill="#eda049"/>
<rect x="1.82" y="138.06" width="208.84" height="4.54" fill="#f0d874"/>
<rect x="1.82" y="142.60" width="167.98" height="4.54" fill="#eda049"/><rect x="169.80" y="142.60" width="40.86" height="4.54" fill="#ee8a3c"/>
<rect x="1.82" y="147.14" width="167.98" height="4.54" fill="#eda049"/><rect x="169.80" y="147.14" width="40.86" height="4.54" fill="#ee8a3c"/>
<rect x="1.82" y="151.68" width="163.44" height="4.54" fill="#edb75a"/><rect x="165.26" y="151.68" width="45.40" height="4.54" fill="#eda049"/>
<rect x="1.82" y="156.22" width="163.44" height="4.54" fill="#edb75a"/><rect x="165.26" y="156.22" width="45.40" height="4.54" fill="#eda049"/>
</g>
</g>
<use href="#coast"/><use href="#borders"/>
</g>
<rect x="0" y="0" width="208.5" height="160.0" fill="none" stroke="#555" stroke-width="0.9"/>
<text x="104.2" y="-3.2" font-size="10.8" text-anchor="middle">N2.0 SSP3-7.0</text>
<text x="4.0" y="11.9" font-size="10.9">f</text>
<text x="2.0" y="156.9" font-size="9.1">Δ</text><rect x="2.2" y="147.1" width="6.9" height="0.6" fill="#444"/><text x="10.6" y="156.9" font-size="9.1">:</text><text x="16.3" y="156.9" font-size="9.2">2.76</text><text x="42.0" y="156.9" font-size="9.2">°C</text>
<text x="22.5" y="168.6" font-size="7.15" text-anchor="middle">115°E</text><text x="67.9" y="168.6" font-size="7.15" text-anchor="middle">125°E</text><text x="113.3" y="168.6" font-size="7.15" text-anchor="middle">135°E</text><text x="158.7" y="168.6" font-size="7.15" text-anchor="middle">145°E</text><text x="204.1" y="168.6" font-size="7.15" text-anchor="middle">155°E</text>
</g>
<g id="colorbar">
<rect x="28.50" y="380.3" width="46.42" height="9.0" fill="#f9fed4"/><rect x="74.62" y="380.3" width="46.42" height="9.0" fill="#f6f6b2"/><rect x="120.73" y="380.3" width="46.42" height="9.0" fill="#f3e78e"/><rect x="166.85" y="380.3" width="46.42" height="9.0" fill="#f0d874"/><rect x="212.96" y="380.3" width="46.42" height="9.0" fill="#edb75a"/><rect x="259.08" y="380.3" width="46.42" height="9.0" fill="#eda049"/><rect x="305.19" y="380.3" width="46.42" height="9.0" fill="#ee8a3c"/><rect x="351.31" y="380.3" width="46.42" height="9.0" fill="#f2643a"/><rect x="397.42" y="380.3" width="46.42" height="9.0" fill="#ee3e28"/><rect x="443.54" y="380.3" width="46.42" height="9.0" fill="#e12426"/><rect x="489.65" y="380.3" width="46.42" height="9.0" fill="#ca1f2a"/><rect x="535.77" y="380.3" width="46.42" height="9.0" fill="#a7172b"/><rect x="581.88" y="380.3" width="46.42" height="9.0" fill="#7c1028"/>
<path d="M628.0 380.3 L657 384.80 L628.0 389.3Z" fill="#7c1028"/>
<path d="M28.5 380.3 L628.0 380.3 L657 384.80 L628.0 389.3 L28.5 389.3Z" fill="none" stroke="#444" stroke-width="0.7"/>
<path d="M28.5 389.3 v2.2" stroke="#333" stroke-width="0.6"/><text x="28.5" y="399.9" font-size="7.8" text-anchor="middle">1.0</text><path d="M74.6 389.3 v2.2" stroke="#333" stroke-width="0.6"/><text x="74.6" y="399.9" font-size="7.8" text-anchor="middle">1.2</text><path d="M120.7 389.3 v2.2" stroke="#333" stroke-width="0.6"/><text x="120.7" y="399.9" font-size="7.8" text-anchor="middle">1.4</text><path d="M166.8 389.3 v2.2" stroke="#333" stroke-width="0.6"/><text x="166.8" y="399.9" font-size="7.8" text-anchor="middle">1.6</text><path d="M213.0 389.3 v2.2" stroke="#333" stroke-width="0.6"/><text x="213.0" y="399.9" font-size="7.8" text-anchor="middle">1.8</text><path d="M259.1 389.3 v2.2" stroke="#333" stroke-width="0.6"/><text x="259.1" y="399.9" font-size="7.8" text-anchor="middle">2.0</text><path d="M305.2 389.3 v2.2" stroke="#333" stroke-width="0.6"/><text x="305.2" y="399.9" font-size="7.8" text-anchor="middle">2.2</text><path d="M351.3 389.3 v2.2" stroke="#333" stroke-width="0.6"/><text x="351.3" y="399.9" font-size="7.8" text-anchor="middle">2.4</text><path d="M397.4 389.3 v2.2" stroke="#333" stroke-width="0.6"/><text x="397.4" y="399.9" font-size="7.8" text-anchor="middle">2.6</text><path d="M443.5 389.3 v2.2" stroke="#333" stroke-width="0.6"/><text x="443.5" y="399.9" font-size="7.8" text-anchor="middle">2.8</text><path d="M489.7 389.3 v2.2" stroke="#333" stroke-width="0.6"/><text x="489.7" y="399.9" font-size="7.8" text-anchor="middle">3.0</text><path d="M535.8 389.3 v2.2" stroke="#333" stroke-width="0.6"/><text x="535.8" y="399.9" font-size="7.8" text-anchor="middle">3.2</text><path d="M581.9 389.3 v2.2" stroke="#333" stroke-width="0.6"/><text x="581.9" y="399.9" font-size="7.8" text-anchor="middle">3.4</text><path d="M628.0 389.3 v2.2" stroke="#333" stroke-width="0.6"/><text x="628.0" y="399.9" font-size="7.8" text-anchor="middle">3.6</text>
<text x="327.3" y="413" font-size="10.85" text-anchor="middle">Mean temperature change (°C) 2060-2079 versus 1990-2009</text>
</g>
</svg>
</body></html>
